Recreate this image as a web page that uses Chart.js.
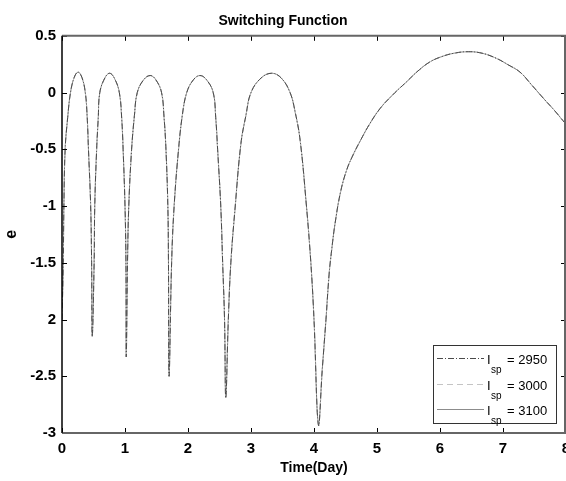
<!DOCTYPE html>
<html>
<head>
<meta charset="utf-8">
<script src="https://cdn.jsdelivr.net/npm/chart.js@4.4.0/dist/chart.umd.min.js"></script>
<style>
  html, body { margin: 0; padding: 0; background: #fff; }
  #wrap { width: 566px; height: 481px; }
</style>
</head>
<body>
<div id="wrap"><canvas id="switchChart" width="566" height="481"></canvas></div>
<script>
// time in days
const timeDays = [
  0.00, 0.02, 0.03, 0.05, 0.09, 0.135, 0.195, 0.255, 0.315, 0.37, 0.40, 0.42, 0.455, 0.47,
  0.48, 0.51, 0.52, 0.55, 0.575, 0.60, 0.68, 0.755, 0.83, 0.91, 0.95, 0.97, 1.00, 1.015,
  1.02, 1.04, 1.06, 1.105, 1.15, 1.195, 1.295, 1.40, 1.49, 1.58, 1.62, 1.65, 1.68, 1.69,
  1.70, 1.74, 1.78, 1.85, 1.91, 1.98, 2.085, 2.19, 2.295, 2.40, 2.44, 2.47, 2.52, 2.55, 2.58,
  2.60, 2.64, 2.68, 2.75, 2.84, 2.92, 3.00, 3.16, 3.33, 3.48, 3.62, 3.70, 3.78, 3.88, 3.95, 4.00,
  4.07, 4.13, 4.19, 4.24, 4.28, 4.33, 4.42, 4.52, 4.62, 4.73, 4.88, 5.05, 5.25, 5.47, 5.65,
  5.84, 6.02, 6.21, 6.45, 6.68, 6.90, 7.08, 7.27, 7.45, 7.64, 7.82, 8.00
];

// switching function value; the three Isp curves coincide at this scale
const switchValues = [
  -2.00, -1.50, -1.00, -0.50, -0.22, 0.00, 0.135, 0.18, 0.135, 0.00, -0.22, -0.50, -1.00, -1.50,
  -2.15, -1.50, -1.00, -0.50, -0.23, 0.00, 0.128, 0.17, 0.128, 0.00, -0.25, -0.50, -1.00, -1.50,
  -2.33, -1.50, -1.00, -0.50, -0.20, 0.00, 0.112, 0.15, 0.112, 0.00, -0.22, -0.50, -1.00, -1.50,
  -2.50, -1.50, -1.00, -0.50, -0.20, 0.00, 0.112, 0.15, 0.112, 0.00, -0.22, -0.50, -1.00, -1.50, -2.00,
  -2.69, -2.00, -1.50, -1.00, -0.45, -0.20, 0.00, 0.128, 0.17, 0.128, 0.00, -0.17, -0.42, -1.00, -1.50, -2.00,
  -2.93, -2.45, -2.00, -1.60, -1.39, -1.17, -0.88, -0.68, -0.55, -0.43, -0.28, -0.14, -0.02, 0.095, 0.19,
  0.27, 0.315, 0.345, 0.36, 0.345, 0.30, 0.245, 0.18, 0.07, -0.05, -0.16, -0.28
];

const ispValues = [2950, 3000, 3100];
const xTicks = [0, 1, 2, 3, 4, 5, 6, 7, 8];
const yTicks = [0.5, 0, -0.5, -1, -1.5, -2, -2.5, -3];
const yTickLabels = ['0.5', '0', '-0.5', '-1', '-1.5', '2', '-2.5', '-3'];

const lineStyles = [
  { color: '#4a4a4a', dash: [6, 2, 1, 2] },
  { color: '#c4c4c4', dash: [6, 4] },
  { color: '#8c8c8c', dash: [] }
];

const points = timeDays.map((t, i) => ({ x: t, y: switchValues[i] }));

const boldFont = 'Liberation Sans, Arial, sans-serif';

// axes box with inward ticks, like the original plot
const framePlugin = {
  id: 'frame',
  afterDraw(chart) {
    const { ctx, chartArea: a, scales } = chart;
    ctx.save();
    ctx.strokeStyle = '#000';
    ctx.lineWidth = 1;
    xTicks.forEach(v => {
      const px = Math.round(scales.x.getPixelForValue(v)) + 0.5;
      ctx.beginPath();
      ctx.moveTo(px, a.bottom); ctx.lineTo(px, a.bottom - 5);
      ctx.moveTo(px, a.top); ctx.lineTo(px, a.top + 5);
      ctx.stroke();
    });
    yTicks.forEach(v => {
      const py = Math.round(scales.y.getPixelForValue(v)) + 0.5;
      ctx.beginPath();
      ctx.moveTo(a.left, py); ctx.lineTo(a.left + 5, py);
      ctx.moveTo(a.right, py); ctx.lineTo(a.right - 5, py);
      ctx.stroke();
    });
    ctx.lineWidth = 2;
    ctx.strokeStyle = '#666';
    ctx.beginPath();
    ctx.moveTo(a.left, a.top); ctx.lineTo(a.right, a.top);
    ctx.moveTo(a.left, a.bottom); ctx.lineTo(a.right, a.bottom);
    ctx.moveTo(a.right - 1, a.top); ctx.lineTo(a.right - 1, a.bottom);
    ctx.stroke();
    ctx.lineWidth = 1.5;
    ctx.strokeStyle = '#000';
    ctx.beginPath();
    ctx.moveTo(a.left, a.top); ctx.lineTo(a.left, a.bottom);
    ctx.stroke();
    ctx.restore();
  }
};

// legend with the Isp subscript
const ispLegend = {
  id: 'ispLegend',
  afterDraw(chart) {
    const { ctx, chartArea: a } = chart;
    const w = 123, h = 78;
    const left = a.right - 10 - w, top = a.bottom - 10 - h;
    ctx.save();
    ctx.fillStyle = '#fff';
    ctx.fillRect(left, top, w, h);
    ctx.strokeStyle = '#333';
    ctx.lineWidth = 1;
    ctx.strokeRect(left + 0.5, top + 0.5, w, h);
    ispValues.forEach((isp, i) => {
      const y = Math.round(top + 13 + i * 25.5) + 0.5;
      ctx.strokeStyle = lineStyles[i].color;
      ctx.setLineDash(lineStyles[i].dash);
      ctx.beginPath();
      ctx.moveTo(left + 4, y); ctx.lineTo(left + 51, y);
      ctx.stroke();
      ctx.setLineDash([]);
      ctx.fillStyle = '#000';
      ctx.textBaseline = 'alphabetic';
      ctx.font = '13px ' + boldFont;
      ctx.fillText('I', left + 54, y + 5);
      ctx.font = '10px ' + boldFont;
      ctx.fillText('sp', left + 58, y + 14);
      ctx.font = '13px ' + boldFont;
      ctx.fillText('= ' + isp, left + 74, y + 5);
    });
    ctx.restore();
  }
};

new Chart(document.getElementById('switchChart'), {
  type: 'line',
  data: {
    datasets: ispValues.map((isp, i) => ({
      label: 'Isp = ' + isp,
      data: points,
      borderColor: lineStyles[i].color,
      borderDash: lineStyles[i].dash,
      borderWidth: 1,
      pointRadius: 0,
      fill: false,
      tension: 0.4
    }))
  },
  options: {
    responsive: false,
    animation: false,
    layout: { padding: 0 },
    plugins: {
      legend: { display: false },
      tooltip: { enabled: false },
      title: {
        display: true,
        text: 'Switching Function',
        color: '#000',
        font: { family: boldFont, size: 14, weight: 'bold' },
        padding: { top: 13, bottom: 6 }
      }
    },
    scales: {
      x: {
        type: 'linear',
        min: 0,
        max: 8,
        grid: { display: false, drawTicks: false },
        border: { display: false },
        ticks: {
          stepSize: 1,
          padding: 7,
          color: '#000',
          maxRotation: 0,
          font: { family: boldFont, size: 15, weight: 'bold' }
        },
        title: {
          display: true,
          text: 'Time(Day)',
          color: '#000',
          font: { family: boldFont, size: 14, weight: 'bold' },
          padding: { top: 0, bottom: 4 }
        },
        afterFit(scale) {
          scale.height = 48;
          scale.paddingLeft = 0;
          scale.paddingRight = 0;
        }
      },
      y: {
        min: -3,
        max: 0.5,
        grid: { display: false, drawTicks: false },
        border: { display: false },
        ticks: {
          stepSize: 0.5,
          padding: 6,
          color: '#000',
          font: { family: boldFont, size: 15, weight: 'bold' },
          callback: (v) => {
            const k = yTicks.findIndex(t => Math.abs(t - v) < 1e-9);
            return k >= 0 ? yTickLabels[k] : '';
          }
        },
        title: {
          display: true,
          text: 'e',
          color: '#000',
          font: { family: boldFont, size: 16, weight: 'bold' },
          padding: { top: 2, bottom: 0 }
        },
        afterFit(scale) {
          scale.width = 62;
        }
      }
    }
  },
  plugins: [framePlugin, ispLegend]
});
</script>
</body>
</html>
